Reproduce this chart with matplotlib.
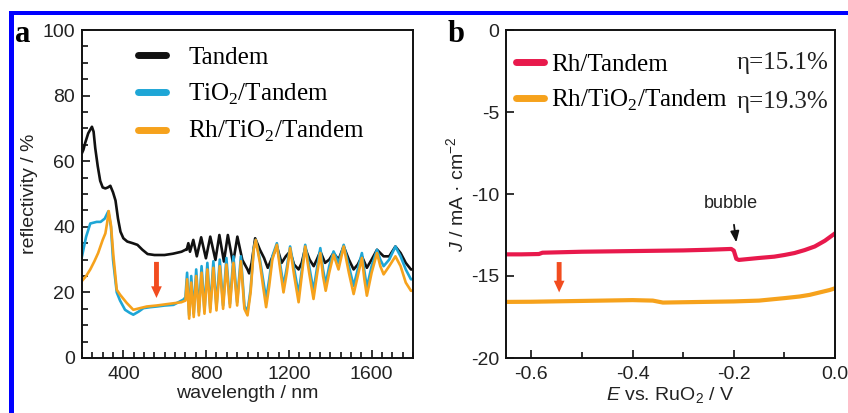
import matplotlib
matplotlib.use("Agg")
import matplotlib.pyplot as plt
from matplotlib.ticker import MultipleLocator, FormatStrFormatter
from matplotlib.patches import Rectangle

plt.rcParams['font.family'] = ['Liberation Sans', 'DejaVu Sans']
plt.rcParams['mathtext.fontset'] = 'custom'
plt.rcParams['mathtext.rm'] = 'Liberation Sans'
plt.rcParams['mathtext.it'] = 'Liberation Sans:italic'
plt.rcParams['axes.unicode_minus'] = False

# ---------------- panel a: reflectivity spectra ----------------
wl_tandem = [200, 207, 215, 230, 248, 256, 264, 276, 288, 300, 313, 325, 337, 350, 362, 374, 386, 400,
             419, 445, 468, 492, 517, 550, 599, 640, 681, 700,
             706, 714, 722, 738, 755, 776, 799, 820, 845, 864, 886, 905, 930, 951, 975, 1000,
             1008, 1020, 1037, 1060, 1080, 1098, 1115, 1142, 1165, 1185, 1206, 1225, 1247,
             1262, 1279, 1300, 1320, 1335, 1352, 1375, 1395, 1416, 1440, 1465, 1490, 1513,
             1533, 1553, 1577, 1600, 1626, 1658, 1685, 1715, 1740, 1765, 1790, 1800]
r_tandem = [62.5, 63.5, 65.5, 68.5, 70.5, 69.0, 64.0, 58.5, 54.0, 52.0, 51.7, 52.0, 52.5, 50.5, 48.0, 42.5, 38.5, 36.5,
            35.5, 35.0, 34.5, 33.0, 31.7, 31.4, 31.4, 31.8, 32.4, 33.0,
            33.0, 35.0, 32.4, 36.0, 31.0, 36.8, 30.4, 37.0, 29.9, 37.5, 29.4, 37.5, 28.9, 37.0, 29.9, 27.0,
            25.8, 29.0, 36.5, 33.0, 30.5, 27.5, 30.0, 34.0, 29.0, 31.0, 32.5, 28.5, 27.0,
            29.0, 33.5, 30.0, 28.0, 30.0, 32.5, 29.0, 30.0, 32.0, 30.0, 34.0, 30.0, 27.0,
            28.5, 31.0, 27.5, 30.0, 33.0, 31.0, 31.0, 34.0, 32.0, 29.0, 27.0, 27.0]

wl_tio2 = [200, 220, 240, 271, 290, 310, 327, 340, 350, 368, 384, 408, 430, 448, 475, 497, 530,
           561, 600, 642, 690, 700,
           708, 718, 728, 740, 752, 765, 778, 792, 806, 820, 835, 850, 866, 882, 898, 915,
           932, 950, 968, 985, 1000, 1015, 1030, 1040, 1060, 1075, 1090, 1105, 1120, 1142,
           1158, 1174, 1190, 1206, 1226, 1247, 1262, 1279, 1298, 1319, 1335, 1352, 1365,
           1378, 1395, 1416, 1440, 1465, 1490, 1513, 1533, 1553, 1565, 1577, 1600, 1626,
           1642, 1658, 1685, 1715, 1740, 1765, 1790, 1800]
r_tio2 = [31.0, 37.0, 41.0, 41.5, 41.5, 42.5, 44.7, 40.0, 30.0, 20.0, 17.5, 14.7, 13.8, 13.2, 14.2, 15.2, 15.5,
          15.7, 16.0, 16.2, 17.8, 18.5,
          26.0, 13.0, 25.0, 13.5, 27.0, 14.0, 28.0, 14.5, 29.0, 15.0, 29.5, 15.5, 30.0, 16.0, 30.5, 16.5,
          31.0, 17.0, 31.0, 16.0, 14.0, 21.0, 33.5, 36.0, 30.0, 24.0, 18.0, 24.0, 31.0, 35.0,
          28.5, 22.0, 27.5, 34.0, 27.0, 19.5, 26.5, 34.5, 28.0, 20.5, 27.0, 33.5, 27.0,
          22.5, 28.0, 32.5, 29.0, 34.5, 28.0, 22.0, 27.0, 32.0, 26.5, 21.5, 28.0, 33.0,
          30.0, 28.0, 30.0, 34.0, 31.0, 27.0, 24.0, 24.0]

wl_rh = [200, 220, 240, 260, 278, 300, 313, 321, 329, 340, 352, 368, 384, 416, 448, 480, 513, 560,
         620, 680, 700,
         708, 718, 728, 740, 752, 765, 778, 792, 806, 820, 835, 850, 866, 882, 898, 915,
         932, 950, 968, 985, 1000, 1015, 1030, 1040, 1060, 1075, 1090, 1105, 1120, 1142,
         1158, 1174, 1190, 1206, 1226, 1247, 1262, 1279, 1298, 1319, 1335, 1352, 1365,
         1378, 1395, 1416, 1440, 1465, 1490, 1513, 1533, 1553, 1565, 1577, 1600, 1626,
         1642, 1658, 1685, 1715, 1740, 1765, 1790, 1800]
r_rh = [23.5, 25.0, 27.0, 29.5, 32.0, 36.0, 38.0, 41.0, 44.8, 40.5, 31.0, 20.8, 19.3, 16.8, 14.7, 15.2, 15.7, 16.0,
        16.5, 17.0, 17.5,
        24.0, 12.0, 23.0, 12.5, 25.0, 13.0, 26.0, 13.5, 27.0, 14.0, 27.5, 14.5, 28.0, 15.0, 28.5, 15.5,
        29.0, 16.0, 29.5, 15.0, 13.0, 20.0, 33.0, 36.0, 29.0, 22.0, 15.5, 22.0, 30.0, 34.5,
        27.0, 20.0, 26.0, 33.5, 25.0, 17.0, 25.0, 34.0, 26.0, 18.0, 25.0, 32.0, 25.0,
        20.5, 26.0, 31.5, 27.0, 34.0, 26.0, 19.5, 25.0, 30.5, 24.0, 19.0, 26.0, 32.0,
        28.0, 25.5, 28.0, 31.0, 28.0, 23.0, 20.5, 20.5]

# ---------------- panel b: photocurrent ----------------
e_rh = [-0.65, -0.62, -0.585, -0.578, -0.5, -0.4, -0.3, -0.25, -0.205, -0.2, -0.195, -0.19,
        -0.15, -0.12, -0.1, -0.08, -0.06, -0.04, -0.02, 0.0]
j_rh = [-13.68, -13.68, -13.66, -13.58, -13.52, -13.48, -13.44, -13.40, -13.35, -13.45, -13.95, -14.02,
        -13.90, -13.82, -13.72, -13.60, -13.42, -13.20, -12.85, -12.40]
e_rhti = [-0.65, -0.6, -0.5, -0.4, -0.36, -0.34, -0.3, -0.2, -0.15, -0.1, -0.07, -0.05, -0.03, -0.01, 0.0]
j_rhti = [-16.58, -16.57, -16.52, -16.47, -16.50, -16.62, -16.60, -16.55, -16.50, -16.35, -16.25,
          -16.15, -16.00, -15.85, -15.75]

labels_a = ['Tandem', 'TiO$_\\mathregular{2}$/Tandem', 'Rh/TiO$_\\mathregular{2}$/Tandem']
labels_b = ['Rh/Tandem', 'Rh/TiO$_\\mathregular{2}$/Tandem']
eff_b = ['\u03b7=15.1%', '\u03b7=19.3%']

c_black = '#111111'
c_cyan = '#1ea6d6'
c_orange = '#f6a21c'
c_red = '#e8194c'
c_arrow = '#f24c1f'

W, H = 848, 413
fig = plt.figure(figsize=(W / 100, H / 100), dpi=100)

# blue frame along the top and left
fig.add_artist(Rectangle((9 / W, (H - 15) / H), 1 - 9 / W, 4 / H, transform=fig.transFigure,
                         color='#0000ff', lw=0))
fig.add_artist(Rectangle((9 / W, 0), 5 / W, (H - 11) / H, transform=fig.transFigure,
                         color='#0000ff', lw=0))

ax_a = fig.add_axes([82 / W, 55 / H, 331 / W, 328 / H])
ax_b = fig.add_axes([506 / W, 55 / H, 329 / W, 328 / H])

serif = ['Liberation Serif', 'DejaVu Serif']

for ax in (ax_a, ax_b):
    for s in ax.spines.values():
        s.set_linewidth(1.4)
        s.set_color('#111111')
    ax.tick_params(which='both', direction='in', top=False, right=False, labelsize=14,
                   width=1.2, color='#111111', labelcolor='#222222')
    ax.tick_params(which='major', length=6)
    ax.tick_params(which='minor', length=4)
    ax.tick_params(axis='x', pad=6)
    ax.tick_params(axis='y', pad=5)

# panel a
la, = ax_a.plot(wl_tandem, r_tandem, color=c_black, lw=1.9)
lb, = ax_a.plot(wl_tio2, r_tio2, color=c_cyan, lw=1.9)
lc, = ax_a.plot(wl_rh, r_rh, color=c_orange, lw=1.9)
ax_a.set_xlim(200, 1800)
ax_a.set_ylim(0, 100)
ax_a.xaxis.set_major_locator(MultipleLocator(400))
ax_a.xaxis.set_minor_locator(MultipleLocator(50))
ax_a.yaxis.set_major_locator(MultipleLocator(20))
ax_a.yaxis.set_minor_locator(MultipleLocator(5))
ax_a.set_xlabel('wavelength / nm', fontsize=14, labelpad=1, color='#222222')
ax_a.set_ylabel('reflectivity / %', fontsize=14, labelpad=3, color='#222222')
ax_a.annotate('', xy=(560, 18.3), xytext=(560, 29.3),
              arrowprops=dict(arrowstyle='simple,head_length=0.6,head_width=0.55,tail_width=0.25',
                              mutation_scale=14, color=c_arrow, lw=0, shrinkA=0, shrinkB=0))
leg_a = ax_a.legend([la, lb, lc], labels_a, loc='upper left', bbox_to_anchor=(0.14, 0.98),
                    frameon=False, prop=dict(family=serif, size=18), handlelength=1.1,
                    handletextpad=0.9, labelspacing=0.5, borderaxespad=0)
for h in leg_a.get_lines():
    h.set_linewidth(5)
    h.set_solid_capstyle('round')

# panel b
lr, = ax_b.plot(e_rh, j_rh, color=c_red, lw=3.0)
lo, = ax_b.plot(e_rhti, j_rhti, color=c_orange, lw=3.0)
ax_b.set_xlim(-0.65, 0.0)
ax_b.set_ylim(-20, 0)
ax_b.xaxis.set_major_locator(MultipleLocator(0.2))
ax_b.xaxis.set_minor_locator(MultipleLocator(0.1))
ax_b.xaxis.set_major_formatter(FormatStrFormatter('%.1f'))
ax_b.yaxis.set_major_locator(MultipleLocator(5))
ax_b.set_xlabel('$\\it{E}$ vs. RuO$_\\mathregular{2}$ / V', fontsize=14, labelpad=1, color='#222222')
ax_b.set_ylabel('$\\it{J}$ / mA \u00b7 cm$^\\mathregular{-2}$', fontsize=14, labelpad=3, color='#222222')
leg_b = ax_b.legend([lr, lo], labels_b, loc='upper left', bbox_to_anchor=(0.0, 0.96),
                    frameon=False, prop=dict(family=serif, size=18), handlelength=1.1,
                    handletextpad=0.3, labelspacing=0.5, borderaxespad=0)
for h in leg_b.get_lines():
    h.set_linewidth(5)
    h.set_solid_capstyle('round')
ax_b.text(0.979, 0.900, eff_b[0], transform=ax_b.transAxes, ha='right', va='center',
          family=serif, fontsize=18, color='#222222')
ax_b.text(0.979, 0.781, eff_b[1], transform=ax_b.transAxes, ha='right', va='center',
          family=serif, fontsize=18, color='#222222')
ax_b.annotate('bubble', xy=(-0.195, -12.95), xytext=(-0.205, -10.6), ha='center', va='center',
              fontsize=13, color='#222222',
              arrowprops=dict(arrowstyle='-|>,head_length=0.5,head_width=0.2', color='#111111',
                              lw=1.3, shrinkA=7, shrinkB=0))
ax_b.annotate('', xy=(-0.545, -16.0), xytext=(-0.545, -14.15),
              arrowprops=dict(arrowstyle='simple,head_length=0.6,head_width=0.55,tail_width=0.25',
                              mutation_scale=14, color=c_arrow, lw=0, shrinkA=0, shrinkB=0))

fig.text(15 / W, (H - 42) / H, 'a', family=serif, fontweight='bold', fontsize=22, va='baseline')
fig.text(448 / W, (H - 42) / H, 'b', family=serif, fontweight='bold', fontsize=22, va='baseline')

fig.savefig('out.png', dpi=100)
